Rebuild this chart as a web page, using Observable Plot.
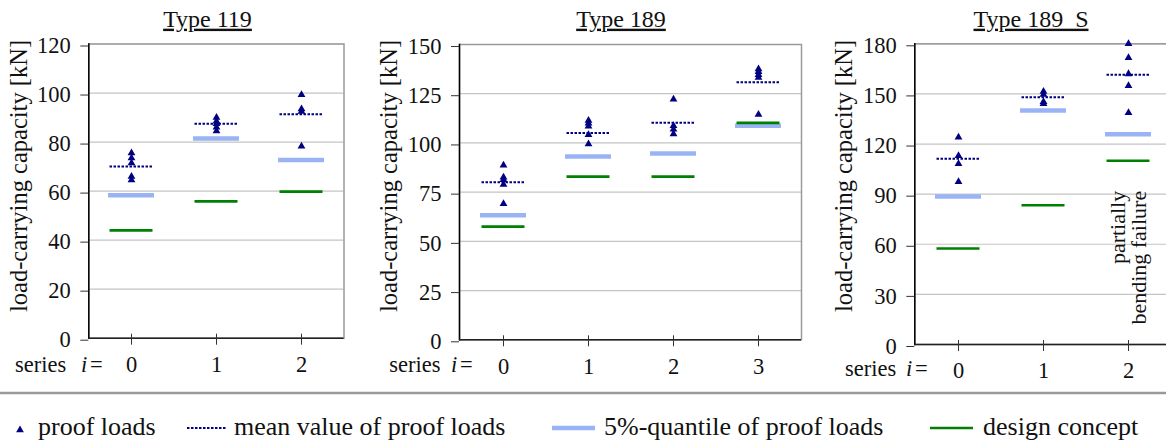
<!DOCTYPE html>
<html><head><meta charset="utf-8">
<script src="https://cdn.jsdelivr.net/npm/d3@7"></script>
<script src="https://cdn.jsdelivr.net/npm/@observablehq/plot@0.6"></script>
<style>
html,body{margin:0;padding:0;background:#fff;overflow:hidden;}
#root{position:relative;width:1166px;height:441px;overflow:hidden;font-family:"Liberation Serif","Times New Roman",serif;}
.panel{position:absolute;top:0;}
#overlay{position:absolute;left:0;top:0;pointer-events:none;}
</style></head><body><div id="root"></div>
<script>
// ---------- data ----------
const titles = ["Type 119", "Type 189", "Type 189_S"];
const yLabel = "load-carrying capacity [kN]";

const series119 = ["0", "1", "2"];
const proof119 = [[75.5, 73.5, 71.5, 66, 64.5], [90, 88.5, 87.5, 86, 84.5], [99.3, 93.5, 92.5, 78.3]];
const mean119 = [70, 87.5, 91.3];
const quantile119 = [58.3, 81.5, 72.7];
const design119 = [44, 55.8, 59.8];
const yTicks119 = [0, 20, 40, 60, 80, 100, 120];

const series189 = ["0", "1", "2", "3"];
const proof189 = [[88.7, 82.6, 81.3, 78.9, 69.1], [111.4, 110, 108.5, 104.1, 99.5], [122.2, 108.7, 107, 104.6], [137.6, 136.1, 134.6, 133.2, 114.4]];
const mean189 = [80, 105.1, 110.2, 130.8];
const quantile189 = [63.3, 93.1, 94.6, 108.7];
const design189 = [57.5, 82.9, 82.9, 110.2];
const yTicks189 = [0, 25, 50, 75, 100, 125, 150];

const series189S = ["0", "1", "2"];
const proof189S = [[124.1, 113, 108.2, 97.4], [151.5, 149.7, 145.3, 144.1], [180, 171.6, 162, 154.9, 138.7]];
const mean189S = [111.2, 148, 161.5];
const quantile189S = [88.6, 140.1, 125.9];
const design189S = [57.5, 83.4, 110];
const yTicks189S = [0, 30, 60, 90, 120, 150, 180];

const noteSeries = ["2"];
const noteValue = [92];
const noteText = ["partially\nbending failure"];

const legendLabels = ["proof loads", "mean value of proof loads", "5%-quantile of proof loads", "design concept"];

// ---------- colours / font ----------
const navy = "#000080", lightBlue = "#99b3f5", green = "#008000";
const FONT = '"Liberation Serif", "Times New Roman", serif';

function rows(series, vals) { return series.map((s, i) => ({s, v: vals[i]})); }
function proofRows(series, vals) { return series.flatMap((s, i) => vals[i].map(v => ({s, v}))); }

function panel({series, proof, mean, quantile, design, ticks, left, width, mLeft, mRight, mTop, mBottom, height, notes}) {
  const ymax = ticks[ticks.length - 1];
  const marks = [
    Plot.gridY(ticks, {stroke: "#c4c4c4", strokeOpacity: 1, strokeWidth: 1.2}),
    Plot.frame({stroke: "#9a9a9a", strokeWidth: 1.5}),
    Plot.frame({anchor: "left", stroke: "#000", strokeWidth: 1.5}),
    Plot.ruleY([0], {stroke: "#222", strokeWidth: 1.5}),
    Plot.axisY(ticks, {tickSize: 8, tickPadding: 10, dy: 2, label: null, fontSize: 22.5, stroke: "#333"}),
    Plot.axisX({tickSize: 11, dy: -4, tickFormat: () => "", label: null, stroke: "#333"}),
    Plot.axisX({tickSize: 0, tickPadding: 18, label: null, fontSize: 22.5}),
    Plot.tickY(rows(series, quantile), {x: "s", y: "v", stroke: lightBlue, strokeWidth: 4.5}),
    Plot.tickY(rows(series, design), {x: "s", y: "v", stroke: green, strokeWidth: 2.6, insetLeft: 1.5, insetRight: 1.5}),
    Plot.tickY(rows(series, mean), {x: "s", y: "v", stroke: navy, strokeWidth: 2, strokeDasharray: "2.5,1.5", insetLeft: 1.5, insetRight: 1.5}),
    Plot.dot(proofRows(series, proof), {x: "s", y: "v", symbol: "triangle", r: 2.9, fill: navy, stroke: "none"})
  ];
  if (notes) {
    marks.push(Plot.text(notes.series.map((s, i) => ({s, v: notes.value[i], t: notes.text[i]})),
      {x: "s", y: "v", text: "t", rotate: -90, textAnchor: "end", lineAnchor: "middle", lineHeight: 0.95, fontSize: 22, fill: "#111"}));
  }
  const p = Plot.plot({
    width, height,
    marginLeft: mLeft, marginRight: mRight, marginTop: mTop, marginBottom: mBottom,
    style: {fontFamily: FONT, fontSize: "22.5px", color: "#111", background: "transparent", overflow: "visible"},
    x: {type: "band", domain: series, paddingInner: 0.46, paddingOuter: 0.23, axis: null},
    y: {domain: [0, ymax], axis: null},
    marks
  });
  p.classList.add("panel");
  p.style.left = left + "px";
  p.style.position = "absolute";
  p.style.top = "0px";
  return p;
}

const root = document.getElementById("root");
const H = 390;
root.appendChild(panel({series: series119, proof: proof119, mean: mean119, quantile: quantile119, design: design119, ticks: yTicks119,
  left: 0, width: 350, mLeft: 88.3, mRight: 6.5, mTop: 43.5, mBottom: H - 337.7, height: H}));
root.appendChild(panel({series: series189, proof: proof189, mean: mean189, quantile: quantile189, design: design189, ticks: yTicks189,
  left: 360, width: 450, mLeft: 99, mRight: 9, mTop: 44, mBottom: H - 339.3, height: H}));
root.appendChild(panel({series: series189S, proof: proof189S, mean: mean189S, quantile: quantile189S, design: design189S, ticks: yTicks189S,
  left: 810, width: 370, mLeft: 104.3, mRight: 9, mTop: 43.3, mBottom: H - 344, height: H,
  notes: {series: noteSeries, value: noteValue, text: noteText}}));

// ---------- overlay: titles, axis labels, legend ----------
const svg = d3.select(root).append("svg").attr("id", "overlay").attr("width", 1166).attr("height", 441)
  .attr("font-family", FONT).style("fill", "#111");

const titleX = [207.5, 621, 1031];
titles.forEach((t, i) => {
  svg.append("text").attr("x", titleX[i]).attr("y", 26.7).attr("text-anchor", "middle")
    .attr("font-size", 24).style("text-decoration", "underline").text(t);
});
const ylabX = [26.7, 396.7, 851.7];
ylabX.forEach(x => {
  svg.append("text").attr("transform", `translate(${x},176) rotate(-90)`).attr("text-anchor", "middle")
    .attr("font-size", 24.5).text(yLabel);
});
const seriesLab = [[15, 81, 90, 372], [389.3, 451, 460, 372], [845, 906, 915, 375.5]];
seriesLab.forEach(([xs, xi, xe, y]) => {
  const t = svg.append("text").attr("y", y).attr("font-size", 22.5);
  t.append("tspan").attr("x", xs).text("series");
  t.append("tspan").attr("x", xi).style("font-style", "italic").text("i");
  t.append("tspan").attr("x", xe).text("=");
});
svg.append("line").attr("x1", 0).attr("x2", 1166).attr("y1", 393).attr("y2", 393).attr("stroke", "#9a9a9a").attr("stroke-width", 2.5);

const legY = 435, swY = 428;
svg.append("path").attr("d", d3.symbol(d3.symbolTriangle, 26)()).attr("transform", `translate(20,${swY + 2})`).attr("fill", navy);
svg.append("line").attr("x1", 187).attr("x2", 226).attr("y1", swY).attr("y2", swY).attr("stroke", navy).attr("stroke-width", 2).attr("stroke-dasharray", "2.5,1.5");
svg.append("line").attr("x1", 552).attr("x2", 595).attr("y1", swY).attr("y2", swY).attr("stroke", lightBlue).attr("stroke-width", 4.5);
svg.append("line").attr("x1", 930).attr("x2", 973).attr("y1", swY).attr("y2", swY).attr("stroke", green).attr("stroke-width", 2.6);
const legX = [38, 234, 604, 983];
legendLabels.forEach((t, i) => svg.append("text").attr("x", legX[i]).attr("y", legY).attr("font-size", 26).text(t));
</script></body></html>
